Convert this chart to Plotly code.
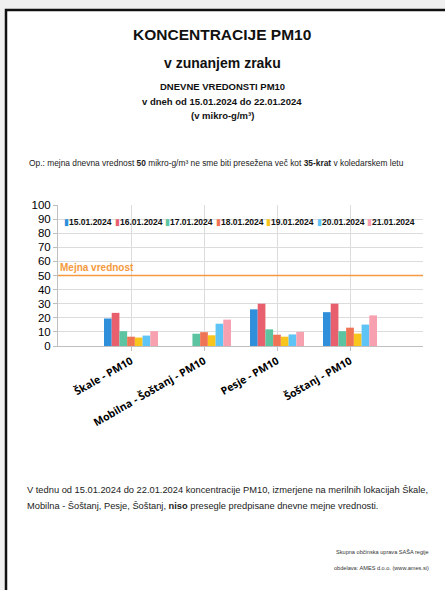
import plotly.graph_objects as go

# ---- data ----
locations = ["Škale - PM10", "Mobilna - Šoštanj - PM10", "Pesje - PM10", "Šoštanj - PM10"]
dates = ["15.01.2024", "16.01.2024", "17.01.2024", "18.01.2024", "19.01.2024", "20.01.2024", "21.01.2024"]
colors = ["#2f8fdb", "#e8606e", "#5cc4a0", "#ef7355", "#f7c51c", "#5ec3f5", "#f7a0b0"]
# values[date_index][location_index]
values = [
    [19.5, None, 26.0, 24.0],
    [23.5, None, 30.0, 30.0],
    [10.5, 8.7, 11.8, 10.5],
    [6.6, 9.8, 8.0, 13.0],
    [6.0, 7.6, 6.6, 8.8],
    [7.4, 15.8, 8.2, 15.2],
    [10.5, 18.7, 10.0, 21.7],
]
limit_value = 50
yticks = [0, 10, 20, 30, 40, 50, 60, 70, 80, 90, 100]

W, H = 445, 590
L, R, T, B = 58, 423, 205, 346

def px(x):
    return (x - L) / (R - L)

def py(y):
    return (B - y) / (B - T)

SANS = "Liberation Sans, Arial, sans-serif"
LIMIT_COLOR = "#f59a40"

fig = go.Figure()
for d, c, v in zip(dates, colors, values):
    fig.add_trace(go.Bar(x=locations, y=v, name=d, marker_color=c,
                         marker_line_width=0, showlegend=False))

ann = []
def text(x, y, s, size, bold=False, anchor="center", color="#111", font=SANS):
    if bold:
        s = "<b>" + s + "</b>"
    ann.append(dict(x=px(x), y=py(y), xref="paper", yref="paper", text=s,
                    showarrow=False, xanchor=anchor, yanchor="middle",
                    font=dict(size=size, color=color, family=font)))

text(222, 34, "KONCENTRACIJE PM10", 15.5, True)
text(222, 63, "v zunanjem zraku", 14, True)
text(222, 87, "DNEVNE VREDONSTI PM10", 9.5, True)
text(222, 101, "v dneh od 15.01.2024 do 22.01.2024", 9.5, True)
text(222, 115, "(v mikro-g/m³)", 9.5, True)
text(27, 163, "Op.: mejna dnevna vrednost <b>50</b> mikro-g/m³ ne sme biti presežena več kot <b>35-krat</b> v koledarskem letu", 8.4, anchor="left", color="#222")
text(25, 490, "V tednu od 15.01.2024 do 22.01.2024 koncentracije PM10, izmerjene na merilnih lokacijah Škale,", 9.3, anchor="left", color="#222")
text(25, 506, "Mobilna - Šoštanj, Pesje, Šoštanj, <b>niso</b> presegle predpisane dnevne mejne vrednosti.", 9.3, anchor="left", color="#222")
text(431, 552, "Skupna občinska uprava SAŠA regije", 5.6, anchor="right", color="#333")
text(431, 568, "obdelava: AMES d.o.o. (www.ames.si)", 5.6, anchor="right", color="#333")

# limit label
ann.append(dict(x=-1, y=limit_value, xref="x", yref="y", text="<b>Mejna vrednost</b>",
                showarrow=False, xanchor="left", yanchor="bottom", yshift=1,
                font=dict(size=10, color=LIMIT_COLOR, family=SANS)))

# legend row
for i, (d, c) in enumerate(zip(dates, colors)):
    ann.append(dict(x=px(62 + i * 50.5), y=py(222), xref="paper", yref="paper",
                    text=f"<span style='color:{c}'>▮</span><b>{d}</b>",
                    showarrow=False, xanchor="left", yanchor="middle",
                    font=dict(size=8.5, color="#111", family=SANS)))

fig.update_layout(
    width=W, height=H,
    margin=dict(l=L, r=W - R, t=T, b=H - B, pad=0),
    paper_bgcolor="#f0f0f0", plot_bgcolor="white",
    barmode="group", bargap=0.26, bargroupgap=0,
    showlegend=False,
    annotations=ann,
    xaxis=dict(range=[-1, 4], showgrid=True, gridcolor="#dcdcdc", tickangle=-30,
               showline=True, linecolor="#bfbfbf", ticks="outside", ticklen=4,
               tickcolor="#bfbfbf",
               tickfont=dict(family="Open Sans, sans-serif", size=10.5, color="#000"),
               tickprefix="<b>", ticksuffix="</b>", fixedrange=True),
    yaxis=dict(range=[0, 100], tickvals=yticks, showgrid=True, gridcolor="#dcdcdc",
               showline=True, linecolor="#bfbfbf", ticks="outside", ticklen=4,
               tickcolor="#bfbfbf", zeroline=False,
               tickfont=dict(family=SANS, size=11.5, color="#000"),
               tickprefix="<b>", ticksuffix="</b>", fixedrange=True),
)

# page frame
fig.add_shape(type="rect", xref="paper", yref="paper", layer="below",
              x0=px(6), x1=px(460), y0=py(10), y1=py(620),
              fillcolor="white", line=dict(color="#111", width=2.5))
# limit line
fig.add_shape(type="line", xref="paper", yref="y", x0=0, x1=1,
              y0=limit_value, y1=limit_value, layer="above",
              line=dict(color=LIMIT_COLOR, width=1.5))

fig.write_html("out.html", config={"displayModeBar": False},
               post_script="document.body.style.margin='0';document.body.style.overflow='hidden';")
